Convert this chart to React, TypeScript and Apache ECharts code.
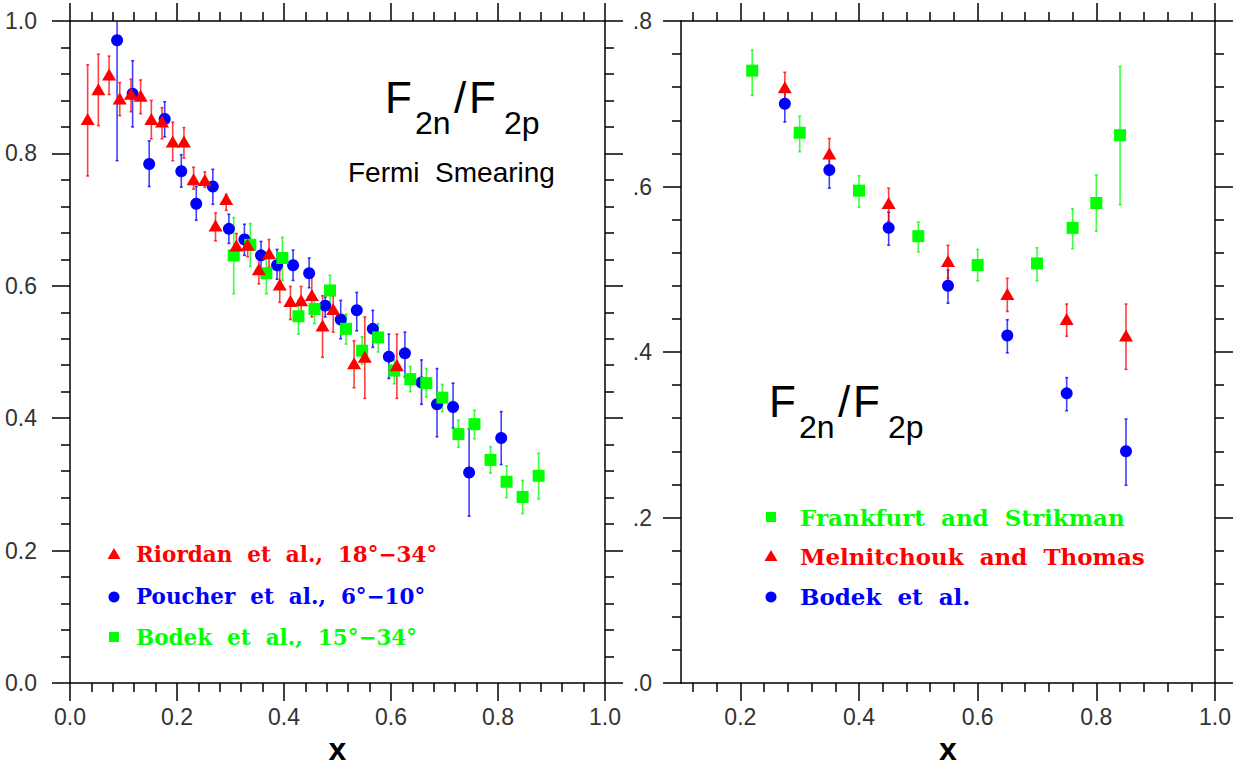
import React, { useEffect, useRef } from "react";
import * as echarts from "echarts";

// [x, y, errLow, errHigh]
const riordan = [
  [0.033, 0.852, 0.766, 0.934], [0.053, 0.897, 0.842, 0.95], [0.073, 0.919, 0.889, 0.947],
  [0.093, 0.883, 0.857, 0.907], [0.114, 0.89, 0.863, 0.912], [0.132, 0.887, 0.86, 0.911],
  [0.152, 0.852, 0.822, 0.88], [0.172, 0.848, 0.822, 0.869], [0.192, 0.818, 0.789, 0.847],
  [0.213, 0.818, 0.793, 0.839], [0.231, 0.761, 0.746, 0.779], [0.252, 0.76, 0.749, 0.772],
  [0.272, 0.691, 0.668, 0.71], [0.292, 0.731, 0.714, 0.738], [0.311, 0.661, 0.638, 0.679],
  [0.332, 0.662, 0.644, 0.676], [0.353, 0.625, 0.603, 0.646], [0.372, 0.649, 0.628, 0.67],
  [0.392, 0.602, 0.575, 0.623], [0.412, 0.577, 0.549, 0.599], [0.432, 0.578, 0.555, 0.599],
  [0.452, 0.586, 0.553, 0.617], [0.472, 0.54, 0.492, 0.585], [0.492, 0.565, 0.53, 0.585],
  [0.531, 0.483, 0.446, 0.517], [0.551, 0.493, 0.43, 0.553], [0.611, 0.48, 0.43, 0.527],
];

const poucher = [
  [0.088, 0.971, 0.789, 1.04], [0.117, 0.89, 0.84, 0.94], [0.148, 0.784, 0.75, 0.819],
  [0.177, 0.852, 0.825, 0.878], [0.208, 0.773, 0.749, 0.798], [0.236, 0.724, 0.699, 0.75],
  [0.267, 0.75, 0.723, 0.776], [0.297, 0.686, 0.664, 0.708], [0.326, 0.67, 0.646, 0.693],
  [0.357, 0.646, 0.62, 0.667], [0.387, 0.631, 0.61, 0.655], [0.417, 0.631, 0.608, 0.654],
  [0.447, 0.619, 0.597, 0.642], [0.477, 0.57, 0.553, 0.583], [0.506, 0.549, 0.52, 0.578],
  [0.536, 0.563, 0.532, 0.59], [0.566, 0.535, 0.507, 0.563], [0.596, 0.493, 0.46, 0.527],
  [0.626, 0.498, 0.462, 0.53], [0.657, 0.454, 0.421, 0.488], [0.686, 0.421, 0.372, 0.475],
  [0.716, 0.417, 0.385, 0.453], [0.746, 0.318, 0.252, 0.384], [0.806, 0.37, 0.33, 0.41],
];

const bodekLeft = [
  [0.306, 0.646, 0.588, 0.703], [0.337, 0.662, 0.629, 0.694], [0.367, 0.619, 0.588, 0.643],
  [0.397, 0.642, 0.608, 0.673], [0.427, 0.554, 0.527, 0.578], [0.457, 0.565, 0.543, 0.585],
  [0.486, 0.593, 0.572, 0.616], [0.516, 0.535, 0.512, 0.557], [0.546, 0.502, 0.482, 0.523],
  [0.576, 0.522, 0.5, 0.543], [0.606, 0.472, 0.452, 0.488], [0.636, 0.459, 0.44, 0.478],
  [0.666, 0.453, 0.432, 0.475], [0.696, 0.431, 0.41, 0.451], [0.726, 0.376, 0.356, 0.397],
  [0.756, 0.391, 0.369, 0.412], [0.786, 0.337, 0.317, 0.357], [0.816, 0.304, 0.28, 0.328],
  [0.846, 0.281, 0.256, 0.306], [0.876, 0.313, 0.278, 0.347],
];

const frankfurt = [
  [0.22, 0.74, 0.71, 0.765], [0.3, 0.665, 0.642, 0.685], [0.4, 0.595, 0.575, 0.613],
  [0.5, 0.54, 0.521, 0.557], [0.6, 0.505, 0.486, 0.524], [0.7, 0.507, 0.486, 0.526],
  [0.76, 0.55, 0.525, 0.573], [0.8, 0.58, 0.546, 0.614], [0.84, 0.662, 0.578, 0.745],
];

const melnitchouk = [
  [0.275, 0.72, 0.698, 0.738], [0.35, 0.64, 0.618, 0.658], [0.45, 0.58, 0.558, 0.598],
  [0.55, 0.51, 0.489, 0.529], [0.65, 0.47, 0.449, 0.489], [0.75, 0.44, 0.419, 0.458],
  [0.85, 0.42, 0.379, 0.458],
];

const bodekRight = [
  [0.275, 0.7, 0.678, 0.718], [0.35, 0.62, 0.598, 0.638], [0.45, 0.55, 0.529, 0.569],
  [0.55, 0.48, 0.459, 0.499], [0.65, 0.42, 0.399, 0.439], [0.75, 0.35, 0.329, 0.369],
  [0.85, 0.28, 0.239, 0.319],
];

const leftXTicks = [0, 0.2, 0.4, 0.6, 0.8, 1.0];
const rightXMajor = [0.2, 0.4, 0.6, 0.8, 1.0];
const rightXMinor = [0.12, 0.16, 0.24, 0.28, 0.32, 0.36, 0.44, 0.48, 0.52, 0.56, 0.64, 0.68, 0.72, 0.76, 0.84, 0.88, 0.92, 0.96];

const legendLeft = ["Riordan  et  al.,  18°−34°", "Poucher  et  al.,  6°−10°", "Bodek  et  al.,  15°−34°"];
const legendRight = ["Frankfurt  and  Strikman", "Melnitchouk  and  Thomas", "Bodek  et  al."];

const RED = "#ff0000";
const BLUE = "#0000ff";
const GREEN = "#00ff00";
const AXIS = "#000";
const LABEL_FONT = "Liberation Sans";

function errSeries(data: number[][], color: string, xi: number, yi: number) {
  return {
    type: "custom",
    xAxisIndex: xi,
    yAxisIndex: yi,
    clip: true,
    silent: true,
    data: data.map((d) => [d[0], d[2], d[3]]),
    encode: { x: 0, y: [1, 2] },
    renderItem: (params: any, api: any) => {
      const x = api.value(0);
      const p1 = api.coord([x, api.value(1)]);
      const p2 = api.coord([x, api.value(2)]);
      const st = { stroke: color, lineWidth: 1.6, opacity: 0.75 };
      const c = 1.5;
      return {
        type: "group",
        children: [
          { type: "line", shape: { x1: p1[0], y1: p1[1], x2: p2[0], y2: p2[1] }, style: st },
          { type: "line", shape: { x1: p1[0] - c, y1: p1[1], x2: p1[0] + c, y2: p1[1] }, style: st },
          { type: "line", shape: { x1: p2[0] - c, y1: p2[1], x2: p2[0] + c, y2: p2[1] }, style: st },
        ],
      };
    },
  };
}

function ptSeries(data: number[][], color: string, symbol: string, size: any, xi: number, yi: number) {
  return {
    type: "scatter",
    xAxisIndex: xi,
    yAxisIndex: yi,
    symbol,
    symbolSize: size,
    itemStyle: { color, opacity: 1 },
    data: data.map((d) => [d[0], d[1]]),
  };
}

const lineStyle = { color: AXIS, width: 1.5 };
const tickMajor = (len: number) => ({ show: true, inside: false, length: len, lineStyle: { color: AXIS, width: 1.5 } });

function legendItems(texts: string[], colors: string[], symbols: string[], sx: number, tx: number, ys: number[], fontSize: number) {
  const els: any[] = [];
  texts.forEach((t, i) => {
    const y = ys[i];
    const c = colors[i];
    const s = symbols[i];
    if (s === "triangle") {
      els.push({ type: "polygon", shape: { points: [[sx, y - 6], [sx - 6.5, y + 5], [sx + 6.5, y + 5]] }, style: { fill: c } });
    } else if (s === "circle") {
      els.push({ type: "circle", shape: { cx: sx, cy: y + 1, r: 5.5 }, style: { fill: c } });
    } else {
      els.push({ type: "rect", shape: { x: sx - 5, y: y - 5, width: 10, height: 10 }, style: { fill: c } });
    }
    els.push({
      type: "text",
      x: tx,
      y,
      style: { text: t, fill: c, font: `bold ${fontSize}px "DejaVu Serif"`, verticalAlign: "middle", align: "left" },
    });
  });
  return els;
}

function titleEls(x: number, yMid: number) {
  const big = `44px "${LABEL_FONT}"`;
  const sub = `32px "${LABEL_FONT}"`;
  const ySub = yMid + 26;
  return [
    { type: "text", x, y: yMid, style: { text: "F", font: big, fill: "#000", verticalAlign: "middle" } },
    { type: "text", x: x + 30, y: ySub, style: { text: "2n", font: sub, fill: "#000", verticalAlign: "middle" } },
    { type: "text", x: x + 69, y: yMid, style: { text: "/", font: big, fill: "#000", verticalAlign: "middle" } },
    { type: "text", x: x + 84, y: yMid, style: { text: "F", font: big, fill: "#000", verticalAlign: "middle" } },
    { type: "text", x: x + 119, y: ySub, style: { text: "2p", font: sub, fill: "#000", verticalAlign: "middle" } },
  ];
}

export default function App() {
  const ref = useRef<HTMLDivElement>(null);
  useEffect(() => {
    if (!ref.current) return;
    const chart = echarts.init(ref.current, null, { renderer: "svg" });
    const labelStyle = { color: "#333", fontFamily: LABEL_FONT, fontSize: 23 };
    const xName = {
      name: "x", nameLocation: "middle", nameGap: 54,
      nameTextStyle: { fontFamily: LABEL_FONT, fontWeight: "bold", fontSize: 32, lineHeight: 24, color: "#000" },
    };

    const option: any = {
      animation: false,
      backgroundColor: "#fff",
      grid: [
        { left: 70, top: 21, width: 535, height: 662, outerBoundsMode: "none", containLabel: false },
        { left: 681, top: 21, width: 534, height: 662, outerBoundsMode: "none", containLabel: false },
      ],
      xAxis: [
        {
          gridIndex: 0, type: "value", position: "bottom", min: 0, max: 1, interval: 0.2,
          axisLine: { show: true, onZero: false, lineStyle },
          axisTick: tickMajor(18),
          minorTick: { show: true, splitNumber: 5, length: 9, lineStyle: { color: AXIS, width: 1.5 } },
          axisLabel: { ...labelStyle, margin: 22, formatter: (v: number) => v.toFixed(1), customValues: leftXTicks },
          splitLine: { show: false },
          ...xName,
        },
        {
          gridIndex: 0, type: "value", position: "top", min: 0, max: 1, interval: 0.2,
          axisLine: { show: true, onZero: false, lineStyle },
          axisTick: tickMajor(18),
          minorTick: { show: true, splitNumber: 5, length: 9, lineStyle: { color: AXIS, width: 1.5 } },
          axisLabel: { show: false },
          splitLine: { show: false },
        },
        {
          gridIndex: 1, type: "value", position: "bottom", min: 0.1, max: 1,
          axisLine: { show: true, onZero: false, lineStyle },
          axisTick: { ...tickMajor(18), customValues: rightXMajor },
          axisLabel: { ...labelStyle, margin: 22, customValues: rightXMajor, formatter: (v: number) => v.toFixed(1) },
          splitLine: { show: false },
          ...xName,
        },
        {
          gridIndex: 1, type: "value", position: "bottom", min: 0.1, max: 1,
          axisLine: { show: false, onZero: false },
          axisTick: { ...tickMajor(9), customValues: rightXMinor },
          axisLabel: { show: false },
          splitLine: { show: false },
        },
        {
          gridIndex: 1, type: "value", position: "top", min: 0.1, max: 1,
          axisLine: { show: true, onZero: false, lineStyle },
          axisTick: { ...tickMajor(18), customValues: rightXMajor },
          axisLabel: { show: false },
          splitLine: { show: false },
        },
        {
          gridIndex: 1, type: "value", position: "top", min: 0.1, max: 1,
          axisLine: { show: false, onZero: false },
          axisTick: { ...tickMajor(9), customValues: rightXMinor },
          axisLabel: { show: false },
          splitLine: { show: false },
        },
      ],
      yAxis: [
        {
          gridIndex: 0, type: "value", position: "left", min: 0, max: 1, interval: 0.2,
          axisLine: { show: true, onZero: false, lineStyle },
          axisTick: tickMajor(18),
          minorTick: { show: true, splitNumber: 5, length: 9, lineStyle: { color: AXIS, width: 1.5 } },
          axisLabel: { ...labelStyle, margin: 33, formatter: (v: number) => v.toFixed(1) },
          splitLine: { show: false },
        },
        {
          gridIndex: 0, type: "value", position: "right", min: 0, max: 1, interval: 0.2,
          axisLine: { show: true, onZero: false, lineStyle },
          axisTick: tickMajor(18),
          minorTick: { show: true, splitNumber: 5, length: 9, lineStyle: { color: AXIS, width: 1.5 } },
          axisLabel: { show: false },
          splitLine: { show: false },
        },
        {
          gridIndex: 1, type: "value", position: "left", min: 0, max: 0.8, interval: 0.2,
          axisLine: { show: true, onZero: false, lineStyle },
          axisTick: tickMajor(18),
          minorTick: { show: true, splitNumber: 5, length: 9, lineStyle: { color: AXIS, width: 1.5 } },
          axisLabel: { ...labelStyle, margin: 29, formatter: (v: number) => v.toFixed(1).replace(/^0/, "") },
          splitLine: { show: false },
        },
        {
          gridIndex: 1, type: "value", position: "right", min: 0, max: 0.8, interval: 0.2,
          axisLine: { show: true, onZero: false, lineStyle },
          axisTick: tickMajor(18),
          minorTick: { show: true, splitNumber: 5, length: 9, lineStyle: { color: AXIS, width: 1.5 } },
          axisLabel: { show: false },
          splitLine: { show: false },
        },
      ],
      series: [
        errSeries(poucher, BLUE, 0, 0),
        ptSeries(poucher, BLUE, "circle", 12, 0, 0),
        errSeries(bodekLeft, GREEN, 0, 0),
        ptSeries(bodekLeft, GREEN, "rect", 12, 0, 0),
        errSeries(riordan, RED, 0, 0),
        ptSeries(riordan, RED, "triangle", [14, 12], 0, 0),
        errSeries(frankfurt, GREEN, 2, 2),
        ptSeries(frankfurt, GREEN, "rect", 12, 2, 2),
        errSeries(bodekRight, BLUE, 2, 2),
        ptSeries(bodekRight, BLUE, "circle", 12, 2, 2),
        errSeries(melnitchouk, RED, 2, 2),
        ptSeries(melnitchouk, RED, "triangle", [14, 12], 2, 2),
      ],
      graphic: [
        ...titleEls(385, 97),
        {
          type: "text", x: 348, y: 172,
          style: { text: "Fermi  Smearing", font: `28px "${LABEL_FONT}"`, fill: "#000", verticalAlign: "middle" },
        },
        ...titleEls(769, 401),
        ...legendItems(legendLeft, [RED, BLUE, GREEN], ["triangle", "circle", "rect"], 114, 136, [554, 596, 637], 21.5),
        ...legendItems(legendRight, [GREEN, RED, BLUE], ["rect", "triangle", "circle"], 771, 800, [517, 556, 596], 23),
      ],
    };
    chart.setOption(option);
    return () => chart.dispose();
  }, []);
  return <div ref={ref} style={{ position: "absolute", left: 0, top: 0, width: 1242, height: 767 }} />;
}
